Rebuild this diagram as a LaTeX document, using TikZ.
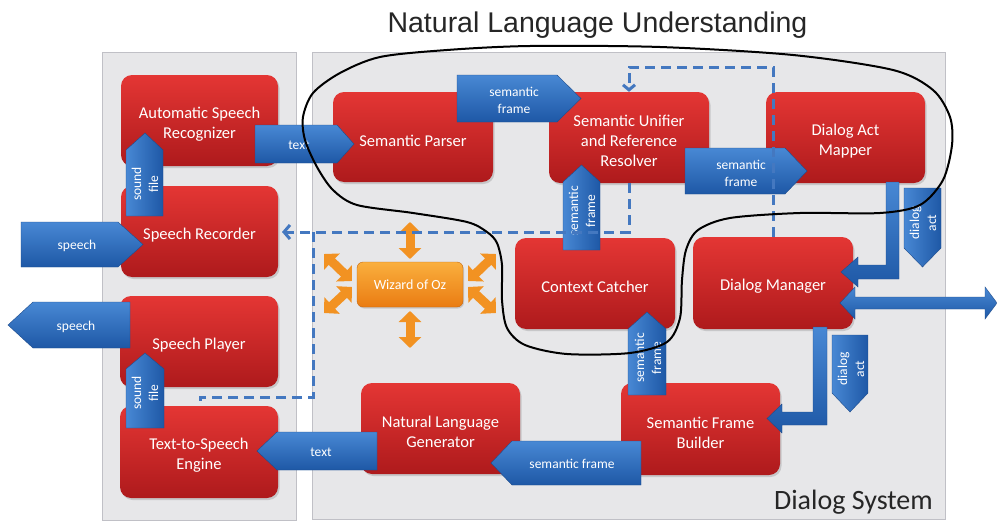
\documentclass[tikz,border=0pt]{standalone}
\usepackage{fontspec}
\setmainfont{Carlito}
\newfontfamily\arialf{Liberation Sans}
\usetikzlibrary{arrows.meta,shadows}
\definecolor{panelfill}{RGB}{231,231,233}
\definecolor{paneledge}{RGB}{192,192,198}
\definecolor{redtop}{RGB}{228,54,52}
\definecolor{redbot}{RGB}{174,26,28}
\definecolor{bluetop}{RGB}{72,136,212}
\definecolor{bluebot}{RGB}{30,88,166}
\definecolor{blueedge}{RGB}{30,76,140}
\definecolor{orangetop}{RGB}{250,175,62}
\definecolor{orangebot}{RGB}{234,124,18}
\definecolor{orangearr}{RGB}{242,146,34}
\definecolor{dashblue}{RGB}{68,120,192}
\definecolor{darktext}{RGB}{38,38,38}
\begin{document}
\begin{tikzpicture}[x=1pt,y=-1pt,
  panel/.style={draw=paneledge, line width=1pt, fill=panelfill},
  rbox/.style={rounded corners=11pt, top color=redtop, bottom color=redbot,
    inner sep=0pt,
    drop shadow={shadow xshift=1.5pt, shadow yshift=-2pt, opacity=0.3}},
  boxtxt/.style={text=white, font=\fontsize{16.5}{20}\selectfont, align=center, inner sep=0pt},
  ozbox/.style={rounded corners=6pt, top color=orangetop, bottom color=orangebot,
    draw=orangebot!85!black, line width=0.4pt, text=white,
    font=\fontsize{14}{16}\selectfont, inner sep=0pt,
    drop shadow={shadow xshift=1pt, shadow yshift=-1.5pt, opacity=0.3}},
  ozarr/.style={line width=9pt, draw=orangearr,
    arrows={Triangle[width=22pt,length=11pt]-Triangle[width=22pt,length=11pt]}},
  blk/.style={draw=blueedge, line width=0.4pt, top color=bluetop, bottom color=bluebot},
  blkv/.style={draw=blueedge, line width=0.4pt, left color=bluetop, right color=bluebot},
  lbl/.style={text=white, font=\fontsize{13.5}{17}\selectfont, align=center, inner sep=0pt},
  lblv/.style={lbl, rotate=90},
  dashln/.style={draw=dashblue, line width=3pt, dash pattern=on 10pt off 6pt},
  nlucurve/.style={draw=black, line width=2pt},
  titlef/.style={font=\arialf\fontsize{28.5}{32}\selectfont, inner sep=0pt}
]
\useasboundingbox (0,0) rectangle (997,522);
\fill[white] (0,0) rectangle (997,522);

% panels
\path[panel] (102,52) rectangle (296,520);
\path[panel] (312,52) rectangle (945,519);

% title
\node[titlef, text=darktext, anchor=base] (nlu) at (597.5,32) {Natural Language Understanding};

% red boxes
\node[rbox, minimum width=157pt, minimum height=91pt] (asr) at (199.5,120.5) {};
\node[rbox, minimum width=157pt, minimum height=91pt] (sr) at (199.5,231.5) {};
\node[rbox, minimum width=158pt, minimum height=91pt] (spl) at (199,341.5) {};
\node[rbox, minimum width=158pt, minimum height=92pt] (tts) at (199,452) {};
\node[rbox, minimum width=160pt, minimum height=90pt] (sp) at (413,137) {};
\node[rbox, minimum width=160pt, minimum height=91pt] (su) at (629,137.5) {};
\node[rbox, minimum width=159pt, minimum height=91pt] (dam) at (845.5,137.5) {};
\node[rbox, minimum width=160pt, minimum height=91pt] (cc) at (595,283.5) {};
\node[rbox, minimum width=160pt, minimum height=92pt] (dm) at (773,283) {};
\node[rbox, minimum width=159pt, minimum height=91pt] (nlg) at (440.5,428.5) {};
\node[rbox, minimum width=159pt, minimum height=92pt] (sfb) at (700.5,429) {};
\node[boxtxt] (asrt) at ([yshift=-3.5pt]asr.center) {Automatic Speech\\Recognizer};
\node[boxtxt] (srt) at ([yshift=-3.5pt]sr.center) {Speech Recorder};
\node[boxtxt] (splt) at ([yshift=-3.5pt]spl.center) {Speech Player};
\node[boxtxt] (ttst) at ([yshift=-3.5pt]tts.center) {Text-to-Speech\\Engine};
\node[boxtxt] (spt) at ([yshift=-3.5pt]sp.center) {Semantic Parser};
\node[boxtxt] (sut) at ([yshift=-3.5pt]su.center) {Semantic Unifier\\and Reference\\Resolver};
\node[boxtxt] (damt) at ([yshift=-3.5pt]dam.center) {Dialog Act\\Mapper};
\node[boxtxt] (cct) at ([yshift=-3.5pt]cc.center) {Context Catcher};
\node[boxtxt] (dmt) at ([yshift=-3.5pt]dm.center) {Dialog Manager};
\node[boxtxt] (nlgt) at ([yshift=-3.5pt]nlg.center) {Natural Language\\Generator};
\node[boxtxt] (sfbt) at ([yshift=-3.5pt]sfb.center) {Semantic Frame\\Builder};

% wizard of oz
\node[ozbox, minimum width=106pt, minimum height=45pt] (woz) at (410,284.5) {Wizard of Oz};
\draw[ozarr] (410,222) -- (410,259);
\draw[ozarr] (410,311) -- (410,348);
\draw[ozarr] (324,254) -- (352,281);
\draw[ozarr] (324,313) -- (352,287);
\draw[ozarr] (468,281) -- (496,254);
\draw[ozarr] (468,287) -- (496,313);

% blue block arrows
\path[blk] (255,125) -- (337,125) -- (354,144) -- (337,163) -- (255,163) -- cycle;
\node[lbl] (l1) at (299,145) {text};
\path[blkv] (126,216) -- (126,150) -- (145,133) -- (163,150) -- (163,216) -- cycle;
\node[lblv] (l2) at (145,184) {sound\\file};
\path[blk] (21,222) -- (118,222) -- (143,244.5) -- (118,267) -- (21,267) -- cycle;
\node[lbl] (l3) at (77,246) {speech};
\path[blk] (130,302) -- (33,302) -- (8,325) -- (33,348) -- (130,348) -- cycle;
\node[lbl] (l4) at (76,327) {speech};
\path[blkv] (126,428) -- (126,369) -- (145,353) -- (164,369) -- (164,428) -- cycle;
\node[lblv] (l5) at (145,393) {sound\\file};
\path[blk] (377,432) -- (277,432) -- (257,451) -- (277,470) -- (377,470) -- cycle;
\node[lbl] (l6) at (321,452) {text};
\path[blk] (457,75) -- (557,75) -- (581,98.5) -- (557,122) -- (457,122) -- cycle;
\node[lbl] (l7) at (514,100) {semantic\\frame};
\path[blkv] (563,250) -- (563,182) -- (581.5,165) -- (600,182) -- (600,250) -- cycle;
\node[lblv] (l8) at (582,211) {semantic\\frame};
\path[blk] (685,148) -- (785,148) -- (807,171) -- (785,194) -- (685,194) -- cycle;
\node[lbl] (l9) at (741,173) {semantic\\frame};
\path[blk] (886,182) -- (899,182) -- (899,279) -- (858,279) -- (858,287) -- (841,272) -- (858,257) -- (858,265) -- (886,265) -- cycle;
\path[blkv] (904,188) -- (941,188) -- (941,248) -- (922.5,267) -- (904,248) -- cycle;
\node[lblv] (l10) at (923,223) {dialog\\act};
\path[blk] (840,303) -- (855,287) -- (855,297) -- (985,297) -- (985,287) -- (997,303) -- (985,319) -- (985,309) -- (855,309) -- (855,319) -- cycle;
\path[blk] (813,327) -- (827,327) -- (827,425) -- (782,425) -- (782,433) -- (767,418.5) -- (782,404) -- (782,412) -- (813,412) -- cycle;
\path[blkv] (832,335) -- (868,335) -- (868,393) -- (850,412) -- (832,393) -- cycle;
\node[lblv] (l11) at (851,369) {dialog\\act};
\path[blkv] (628,395) -- (628,329) -- (647,312) -- (666,329) -- (666,395) -- cycle;
\node[lblv] (l12) at (648,358) {semantic\\frame};
\path[blk] (641,441) -- (512,441) -- (491,463) -- (512,485) -- (641,485) -- cycle;
\node[lbl] (l13) at (572,464) {semantic frame};

% dashed wizard-of-oz connections
\coordinate (j1) at (629,232);
\coordinate (j2) at (313,232);
\coordinate (srin) at (282,232);
\coordinate (k1) at (313,397);
\coordinate (k2) at (200,397);
\coordinate (ttsin) at (200,406);
\coordinate (t1) at (773,67);
\coordinate (t2) at (629,67);
\draw[dashln, -{Straight Barb[length=6pt,width=14pt]}] (su.south) -- (j1) -- (srin);
\draw[dashln] (j2) -- (k1) -- (k2) -- (ttsin);
\draw[dashln, -{Straight Barb[length=5pt,width=12pt]}] (dm.north) -- (t1) -- (t2) -- (su.north);

% natural language understanding boundary
\draw[nlucurve] plot[smooth cycle, tension=0.5] coordinates {
 (340,73) (380,57) (447,50) (530,46) (660,47) (793,55) (893,70) (933,90)
 (950,117) (952,145) (943,180) (920,205) (880,213) (800,213) (730,218)
 (698,230) (686,250) (682,280) (680,318) (667,342) (630,353) (567,354)
 (525,345) (507,328) (502,300) (502,265) (497,243) (487,232) (467,222)
 (413,213) (357,205) (333,190) (317,167) (305,140) (303,117) (313,93)};

% dialog system label
\node[font=\fontsize{28}{32}\selectfont, text=darktext, anchor=base east, inner sep=0pt] (ds) at (933,509) {Dialog System};
\end{tikzpicture}
\end{document}
